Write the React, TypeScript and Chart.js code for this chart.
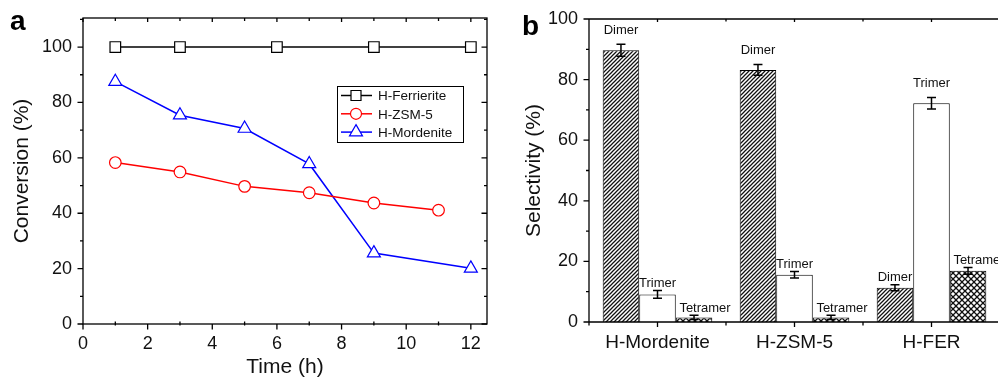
import React, { useEffect, useRef } from 'react';
import { Chart, registerables } from 'chart.js';
Chart.register(...registerables);

const FONT = '"Liberation Sans", Arial, Helvetica, sans-serif';

// ---- Panel a data ----
const timeFerrierite = [1, 3, 6, 9, 12];
const convFerrierite = [100, 100, 100, 100, 100];
const timeZSM5 = [1, 3, 5, 7, 9, 11];
const convZSM5 = [58.3, 54.9, 49.7, 47.4, 43.7, 41.1];
const timeMordenite = [1, 3, 5, 7, 9, 12];
const convMordenite = [87.5, 75.4, 70.6, 57.8, 25.6, 20.1];
const seriesNames = ['H-Ferrierite', 'H-ZSM-5', 'H-Mordenite'];

// ---- Panel b data ----
const catalysts = ['H-Mordenite', 'H-ZSM-5', 'H-FER'];
const products = ['Dimer', 'Trimer', 'Tetramer'];
const dimerSel = [89.7, 83.2, 11.3];
const dimerErr = [2.0, 1.8, 1.0];
const trimerSel = [9.1, 15.6, 72.2];
const trimerErr = [1.3, 1.1, 1.9];
const tetramerSel = [1.5, 1.5, 16.9];
const tetramerErr = [0.7, 0.7, 1.1];

function makePattern(kind: 'hatch' | 'cross') {
  const c = document.createElement('canvas');
  const s = kind === 'hatch' ? 4 : 6;
  c.width = s; c.height = s;
  const g = c.getContext('2d')!;
  g.fillStyle = '#fff';
  g.fillRect(0, 0, s, s);
  g.strokeStyle = '#111';
  g.lineWidth = kind === 'hatch' ? 1.25 : 1.3;
  g.beginPath();
  g.moveTo(-1, s + 1); g.lineTo(s + 1, -1);
  g.moveTo(-1, 1); g.lineTo(1, -1);
  g.moveTo(s - 1, s + 1); g.lineTo(s + 1, s - 1);
  g.stroke();
  if (kind === 'cross') {
    g.beginPath();
    g.moveTo(-1, -1); g.lineTo(s + 1, s + 1);
    g.moveTo(-1, s - 1); g.lineTo(1, s + 1);
    g.moveTo(s - 1, -1); g.lineTo(s + 1, 1);
    g.stroke();
  }
  return g.createPattern(c, 'repeat')!;
}

function drawMarker(ctx: CanvasRenderingContext2D, style: string, x: number, y: number, color: string) {
  ctx.save();
  ctx.fillStyle = '#fff';
  ctx.strokeStyle = color;
  ctx.lineWidth = 1.2;
  ctx.beginPath();
  if (style === 'rect') {
    ctx.rect(x - 5, y - 5, 10, 10);
  } else if (style === 'circle') {
    ctx.arc(x, y, 5.5, 0, Math.PI * 2);
  } else {
    const r = 7.5;
    ctx.moveTo(x, y - r);
    ctx.lineTo(x + r * Math.sin(2 * Math.PI / 3), y + r / 2);
    ctx.lineTo(x - r * Math.sin(2 * Math.PI / 3), y + r / 2);
    ctx.closePath();
  }
  ctx.fill();
  ctx.stroke();
  ctx.restore();
}

function minorValues(ticks: number[]) {
  const out: number[] = [];
  for (let i = 0; i < ticks.length - 1; i++) out.push((ticks[i] + ticks[i + 1]) / 2);
  return out;
}

const noPad = (s: any) => { s.paddingTop = 0; s.paddingBottom = 0; s.paddingLeft = 0; s.paddingRight = 0; };

const frameA = {
  id: 'frameA',
  afterDraw(chart: any) {
    const { ctx, chartArea: { left, right, top, bottom }, scales: { x, y } } = chart;
    ctx.save();
    ctx.strokeStyle = '#000';
    ctx.lineWidth = 1.3;
    ctx.strokeRect(left, top, right - left, bottom - top);
    const xs = x.ticks.map((t: any) => t.value);
    const ys = y.ticks.map((t: any) => t.value);
    const xMin = minorValues(xs);
    const yMin = minorValues(ys).concat([ys[ys.length - 1] + (ys[1] - ys[0]) / 2]);
    ctx.beginPath();
    xs.forEach((v: number) => {
      const px = x.getPixelForValue(v);
      ctx.moveTo(px, bottom); ctx.lineTo(px, bottom + 5.5);
      ctx.moveTo(px, top); ctx.lineTo(px, top + 4);
    });
    xMin.forEach((v: number) => {
      const px = x.getPixelForValue(v);
      ctx.moveTo(px, bottom + 1.5); ctx.lineTo(px, bottom - 2.5);
      ctx.moveTo(px, top); ctx.lineTo(px, top + 3);
    });
    const tickY = (vals: number[], len: number) => {
      vals.forEach((v) => {
        const py = y.getPixelForValue(v);
        if (py < top - 0.5) return;
        ctx.moveTo(left, py); ctx.lineTo(left - len, py);
        ctx.moveTo(right, py); ctx.lineTo(right - len, py);
      });
    };
    tickY(ys, 5.5); tickY(yMin, 3);
    ctx.stroke();

    // legend
    const bx = 337, by = 86, bw = 126, bh = 56;
    ctx.lineWidth = 1;
    ctx.fillStyle = '#fff';
    ctx.fillRect(bx, by, bw, bh);
    ctx.strokeRect(bx + 0.5, by + 0.5, bw, bh);
    chart.data.datasets.forEach((ds: any, i: number) => {
      const ly = by + 9.5 + i * 18.3;
      ctx.strokeStyle = ds.borderColor;
      ctx.lineWidth = 1.5;
      ctx.beginPath();
      ctx.moveTo(bx + 4, ly); ctx.lineTo(bx + 35, ly);
      ctx.stroke();
      drawMarker(ctx, ds.pointStyle, bx + 19, ly, ds.borderColor);
      ctx.fillStyle = '#111';
      ctx.font = `13.5px ${FONT}`;
      ctx.textBaseline = 'middle';
      ctx.textAlign = 'left';
      ctx.fillText(ds.label, bx + 41, ly + 1);
    });
    // panel letter
    ctx.fillStyle = '#000';
    ctx.font = `bold 28px ${FONT}`;
    ctx.textBaseline = 'alphabetic';
    ctx.fillText('a', 10, 30);
    ctx.restore();
  },
};

const errs = [dimerErr, trimerErr, tetramerErr];

const frameB = {
  id: 'frameB',
  afterDraw(chart: any) {
    const { ctx, chartArea: { left, right, top, bottom }, scales: { x, y } } = chart;
    ctx.save();
    ctx.strokeStyle = '#000';
    ctx.lineWidth = 1.3;
    ctx.beginPath();
    ctx.moveTo(left, top); ctx.lineTo(right, top);
    ctx.moveTo(left, top); ctx.lineTo(left, bottom); ctx.lineTo(right, bottom);
    const ys = y.ticks.map((t: any) => t.value);
    minorValues(ys).forEach((v) => { const p = y.getPixelForValue(v); ctx.moveTo(left, p); ctx.lineTo(left - 3, p); });
    ys.forEach((v: number) => { const p = y.getPixelForValue(v); ctx.moveTo(left, p); ctx.lineTo(left - 5.5, p); });
    const n = catalysts.length;
    for (let i = 0; i < n; i++) {
      const c = x.getPixelForValue(i);
      ctx.moveTo(c, bottom); ctx.lineTo(c, bottom + 5);
      ctx.moveTo(c, top); ctx.lineTo(c, top + 3);
    }
    for (let i = 0; i <= n; i++) {
      const c = x.getPixelForValue(i - 0.5);
      ctx.moveTo(c, bottom); ctx.lineTo(c, bottom + 3.5);
      ctx.moveTo(c, top); ctx.lineTo(c, top + 2.5);
    }
    ctx.stroke();

    // error bars and labels
    chart.data.datasets.forEach((ds: any, di: number) => {
      const meta = chart.getDatasetMeta(di);
      meta.data.forEach((bar: any, i: number) => {
        const v = ds.data[i];
        const e = errs[di][i];
        const yt = y.getPixelForValue(v + e);
        const yb = y.getPixelForValue(v - e);
        ctx.strokeStyle = '#000';
        ctx.lineWidth = 1.5;
        ctx.beginPath();
        ctx.moveTo(bar.x, yt); ctx.lineTo(bar.x, yb);
        ctx.moveTo(bar.x - 4.5, yt); ctx.lineTo(bar.x + 4.5, yt);
        ctx.moveTo(bar.x - 4.5, yb); ctx.lineTo(bar.x + 4.5, yb);
        ctx.stroke();
        ctx.fillStyle = '#111';
        ctx.font = `13px ${FONT}`;
        ctx.textAlign = 'center';
        ctx.textBaseline = 'alphabetic';
        const gap = v > 50 ? 10.5 : 3.5;
        const dx = di === 2 ? 11 : 0;
        ctx.fillText(products[di], bar.x + dx, yt - gap);
      });
    });
    ctx.fillStyle = '#000';
    ctx.font = `bold 28px ${FONT}`;
    ctx.textAlign = 'left';
    ctx.fillText('b', 22, 35);
    ctx.restore();
  },
};

export default function App() {
  const refA = useRef<HTMLCanvasElement>(null);
  const refB = useRef<HTMLCanvasElement>(null);

  useEffect(() => {
    Chart.defaults.font.family = FONT;
    Chart.defaults.color = '#111';
    const pts = (xs: number[], ys: number[]) => xs.map((t, i) => ({ x: t, y: ys[i] }));
    const lineDs = (label: string, data: any, color: string, style: string, r: number) => ({
      label, data, borderColor: color, backgroundColor: '#fff', pointBackgroundColor: '#fff',
      pointBorderColor: color, pointStyle: style, pointRadius: r, pointBorderWidth: 1.2,
      borderWidth: 1.5, tension: 0,
    });
    const chartA = new Chart(refA.current!, {
      type: 'line',
      data: {
        datasets: [
          lineDs(seriesNames[0], pts(timeFerrierite, convFerrierite), '#000', 'rect', 7.5),
          lineDs(seriesNames[1], pts(timeZSM5, convZSM5), '#ff0000', 'circle', 5.8),
          lineDs(seriesNames[2], pts(timeMordenite, convMordenite), '#0000ff', 'triangle', 7.5),
        ],
      },
      options: {
        animation: false,
        responsive: false,
        layout: { padding: { top: 18, right: 13, left: 0, bottom: 0 } },
        plugins: { legend: { display: false }, tooltip: { enabled: false } },
        scales: {
          x: {
            type: 'linear', min: 0, max: 12.5,
            ticks: { stepSize: 2, includeBounds: false, font: { size: 18 }, padding: 9, color: '#111', maxRotation: 0 },
            grid: { display: false, drawTicks: false },
            border: { display: false },
            title: { display: true, text: 'Time (h)', font: { size: 21, lineHeight: 1 }, padding: { top: 0, bottom: 0 }, color: '#111' },
            afterFit: (s: any) => { s.height = 54; noPad(s); },
          },
          y: {
            min: 0, max: 110.5,
            ticks: { stepSize: 20, includeBounds: false, font: { size: 18 }, padding: 11, color: '#111' },
            grid: { display: false, drawTicks: false },
            border: { display: false },
            title: { display: true, text: 'Conversion (%)', font: { size: 21, lineHeight: 1 }, padding: { top: 11.5, bottom: 0 }, color: '#111' },
            afterFit: (s: any) => { s.width = 83; noPad(s); },
          },
        },
      } as any,
      plugins: [frameA],
    });

    const chartB = new Chart(refB.current!, {
      type: 'bar',
      data: {
        labels: catalysts,
        datasets: [
          { label: products[0], data: dimerSel, backgroundColor: makePattern('hatch'), borderColor: '#000', borderWidth: 1 },
          { label: products[1], data: trimerSel, backgroundColor: '#fff', borderColor: '#000', borderWidth: 1 },
          { label: products[2], data: tetramerSel, backgroundColor: makePattern('cross'), borderColor: '#000', borderWidth: 1 },
        ],
      },
      options: {
        animation: false,
        responsive: false,
        categoryPercentage: 0.8,
        barPercentage: 1.0,
        layout: { padding: { top: 19, right: 10, left: 0, bottom: 0 } },
        plugins: { legend: { display: false }, tooltip: { enabled: false } },
        scales: {
          x: {
            type: 'category', offset: true,
            ticks: { font: { size: 19 }, padding: 9, color: '#111', maxRotation: 0 },
            grid: { display: false, drawTicks: false },
            border: { display: false },
            afterFit: (s: any) => { s.height = 56; noPad(s); },
          },
          y: {
            min: 0, max: 100,
            ticks: { stepSize: 20, font: { size: 18 }, padding: 11, color: '#111' },
            grid: { display: false, drawTicks: false },
            border: { display: false },
            title: { display: true, text: 'Selectivity (%)', font: { size: 21, lineHeight: 1 }, padding: { top: 23.5, bottom: 0 }, color: '#111' },
            afterFit: (s: any) => { s.width = 89; noPad(s); },
          },
        },
      } as any,
      plugins: [frameB],
    });
    return () => { chartA.destroy(); chartB.destroy(); };
  }, []);

  return (
    <div style={{ position: 'fixed', left: 0, top: 0, width: 998, height: 378, overflow: 'hidden', background: '#fff' }}>
      <canvas ref={refA} width={500} height={378} style={{ position: 'absolute', left: 0, top: 0, width: 500, height: 378 }} />
      <canvas ref={refB} width={510} height={378} style={{ position: 'absolute', left: 500, top: 0, width: 510, height: 378 }} />
    </div>
  );
}
